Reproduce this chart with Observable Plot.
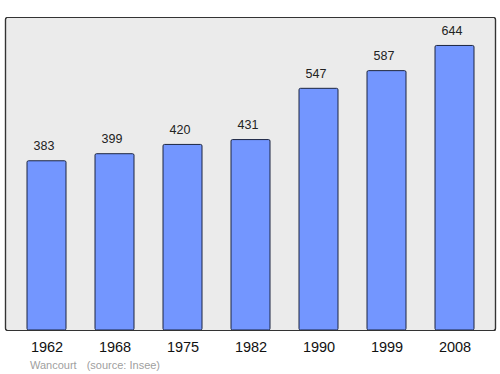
<!DOCTYPE html>
<html>
<head>
<meta charset="utf-8">
<script src="https://cdn.jsdelivr.net/npm/d3@7"></script>
<script src="https://cdn.jsdelivr.net/npm/@observablehq/plot@0.6"></script>
<style>
  body { margin: 0; background: #fff; font-family: "Liberation Sans", Arial, sans-serif; }
  #caption { height: 18px; line-height: 18px; font-size: 11px; color: #a0a0a0; padding-left: 30px; white-space: pre; }
</style>
</head>
<body>
<div id="chart"></div>
<div id="caption"><span>Wancourt</span><span style="margin-left:10px">(source: Insee)</span></div>
<script>
const years = ["1962", "1968", "1975", "1982", "1990", "1999", "2008"];
const population = [383, 399, 420, 431, 547, 587, 644];

const data = years.map((y, i) => ({year: y, pop: population[i]}));
const yMax = d3.max(population) * 1.1;

const chart = Plot.plot({
  width: 500,
  height: 356,
  marginLeft: 5,
  marginRight: 5,
  marginTop: 17,
  marginBottom: 26,
  style: {fontFamily: "'Liberation Sans', Arial, sans-serif", background: "transparent"},
  x: {domain: years, range: [11.6, 490.2], paddingInner: 0.42, paddingOuter: 0.21, axis: null},
  y: {domain: [0, yMax], range: [330, 17], axis: null},
  marks: [
    Plot.frame({fill: "#ebebeb", stroke: "#333", strokeWidth: 1.2, rx: 2}),
    Plot.barY(data, {x: "year", y: "pop", fill: "#7396ff", stroke: "#1c2540", strokeWidth: 1, rx: 1.5}),
    Plot.text(data, {x: "year", y: "pop", text: d => String(d.pop), dy: -15, dx: -3, fontSize: 12.5, fill: "#222"}),
    Plot.axisX({tickSize: 0, tickPadding: 11, fontSize: 14.5, fill: "#111", label: null}),
    Plot.frame({stroke: "#333", strokeWidth: 1.2, rx: 2})
  ]
});
document.getElementById("chart").appendChild(chart);
</script>
</body>
</html>
